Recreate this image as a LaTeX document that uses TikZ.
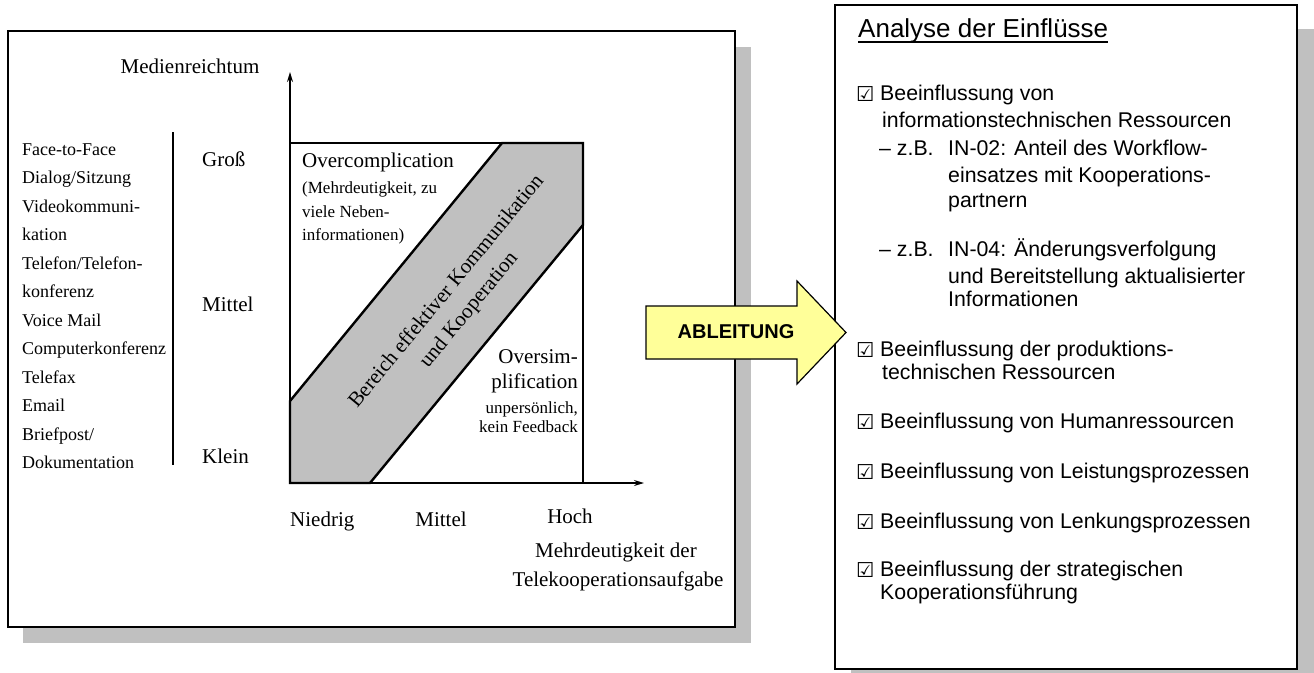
\documentclass[tikz,border=0pt]{standalone}
\usepackage{fontspec}
\setmainfont{Liberation Serif}
\newfontfamily\arialfont{Liberation Sans}
\newfontfamily\symbolfont{DejaVu Sans}
\usetikzlibrary{arrows.meta}
\definecolor{shadowgray}{HTML}{C0C0C0}
\definecolor{arrowyellow}{HTML}{FFFF99}

\begin{document}
\begin{tikzpicture}[x=1pt,y=-1pt,
  panel/.style={draw=black, line width=1.6pt, fill=white},
  dropshadow/.style={fill=shadowgray},
  medium/.style={inner sep=0pt, anchor=base west, font=\fontsize{18}{28.5}\selectfont},
  level/.style={inner sep=0pt, anchor=base west, font=\fontsize{21}{24}\selectfont},
  axislbl/.style={inner sep=0pt, anchor=base, font=\fontsize{21}{24}\selectfont},
  regionsmall/.style={inner sep=0pt, font=\fontsize{17}{19}\selectfont},
  listline/.style={inner sep=0pt, anchor=base west, font=\arialfont\fontsize{21.3}{25}\selectfont},
  checkmark/.style={inner sep=0pt, anchor=base west, font=\symbolfont\fontsize{20.5}{25}\selectfont},
  axis/.style={line width=1.4pt, -{Stealth[length=10pt,width=6pt]}},
  frameline/.style={line width=2.4pt},
]
\useasboundingbox (0,0) rectangle (1314,672);
\clip (0,0) rectangle (1314,672);

% ---------- panels with drop shadows ----------
\fill[dropshadow] (23,47) rectangle (751,643);
\draw[panel] (8,31) rectangle (735,627);
\fill[dropshadow] (851,29) rectangle (1320,690);
\draw[panel] (835,5) rectangle (1297,669);

% ---------- media richness chart ----------
\node[inner sep=0pt, anchor=base, font=\fontsize{21}{24}\selectfont] (ylabel) at (190,73) {Medienreichtum};

\node[medium] (m1)  at (22,155)   {Face-to-Face};
\node[medium] (m2)  at (22,183.5) {Dialog/Sitzung};
\node[medium] (m3)  at (22,212)   {Videokommuni-};
\node[medium] (m4)  at (22,240.5) {kation};
\node[medium] (m5)  at (22,269)   {Telefon/Telefon-};
\node[medium] (m6)  at (22,297.5) {konferenz};
\node[medium] (m7)  at (22,326)   {Voice Mail};
\node[medium] (m8)  at (22,354.5) {Computerkonferenz};
\node[medium] (m9)  at (22,383)   {Telefax};
\node[medium] (m10) at (22,411.5) {Email};
\node[medium] (m11) at (22,440)   {Briefpost/};
\node[medium] (m12) at (22,468.5) {Dokumentation};

\coordinate (sepTop) at (173,132);
\coordinate (sepBot) at (173,465);
\draw[line width=1.6pt] (sepTop) -- (sepBot);

\node[level] (gross)  at (202,166) {Groß};
\node[level] (mittel) at (202,311) {Mittel};
\node[level] (klein)  at (202,463) {Klein};

% band of effective communication
\coordinate (origin) at (290,483);
\coordinate (bandA) at (290,401);
\coordinate (bandB) at (502,143);
\coordinate (boxTL) at (290,143);
\coordinate (boxTR) at (583,143);
\coordinate (bandC) at (583,225);
\coordinate (bandD) at (370,483);
\coordinate (boxBR) at (583,483);
\coordinate (xend) at (644,483);
\coordinate (yend) at (290,72);

\draw[frameline, fill=shadowgray, line join=miter] (bandA) -- (bandB) -- (boxTR) -- (bandC) -- (bandD) -- (origin) -- cycle;
\draw[frameline] (boxTL) -- (boxTR);
\draw[line width=1.8pt] (boxTR) -- (boxBR);
\draw[axis] (origin) -- (xend);
\draw[axis] (origin) -- (yend);

\node[rotate=50.6, align=center, inner sep=0pt, font=\fontsize{21}{29}\selectfont] (bandtext) at (458,301)
  {Bereich effektiver Kommunikation\\und Kooperation};

\node[inner sep=0pt, anchor=base west, font=\fontsize{21}{24}\selectfont] (over) at (302,167) {Overcomplication};
\node[regionsmall, anchor=base west] (over1) at (302,193) {(Mehrdeutigkeit, zu};
\node[regionsmall, anchor=base west] (over2) at (302,217) {viele Neben-};
\node[regionsmall, anchor=base west] (over3) at (302,240) {informationen)};

\node[inner sep=0pt, anchor=base east, font=\fontsize{21}{24}\selectfont] (under) at (578,363) {Oversim-};
\node[inner sep=0pt, anchor=base east, font=\fontsize{21}{24}\selectfont] (under1) at (578,388) {plification};
\node[regionsmall, anchor=base east] (under2) at (578,413) {unpersönlich,};
\node[regionsmall, anchor=base east] (under3) at (578,432) {kein Feedback};

\node[axislbl, anchor=base west] (lo)  at (290,526) {Niedrig};
\node[axislbl] (mid) at (441,526) {Mittel};
\node[axislbl] (hi)  at (570,523) {Hoch};
\node[axislbl] (xlabel1) at (616,557) {Mehrdeutigkeit der};
\node[axislbl] (xlabel2) at (618,586) {Telekooperationsaufgabe};

% ---------- derivation arrow ----------
\coordinate (a1) at (646,306);
\coordinate (a2) at (797,306);
\coordinate (a3) at (797,281);
\coordinate (a4) at (846,332.5);
\coordinate (a5) at (797,384);
\coordinate (a6) at (797,359);
\coordinate (a7) at (646,359);
\fill[dropshadow, shift={(8,9)}] (a1) -- (a2) -- (a3) -- (a4) -- (a5) -- (a6) -- (a7) -- cycle;
\draw[fill=arrowyellow, line width=1.2pt, line join=miter] (a1) -- (a2) -- (a3) -- (a4) -- (a5) -- (a6) -- (a7) -- cycle;
\node[inner sep=0pt, anchor=base, font=\arialfont\bfseries\fontsize{20}{24}\selectfont] (ableitung) at (736,338) {ABLEITUNG};

% ---------- analysis list ----------
\node[inner sep=0pt, anchor=base west, font=\arialfont\fontsize{26}{30}\selectfont] (title) at (858,37) {Analyse der Einflüsse};
\draw[line width=1.7pt] ([yshift=-5pt]title.base west) -- ([yshift=-5pt]title.base east);

\node[checkmark] (c1) at (856,101) {☑};
\node[listline] (l1)  at (880,100) {Beeinflussung von};
\node[listline] (l2)  at (882,127) {informationstechnischen Ressourcen};
\node[listline] (l3)  at (879,155) {– z.B.};
\node[listline] (l3b) at (948,155) {IN-02: Anteil des Workflow-};
\node[listline] (l4)  at (948,182) {einsatzes mit Kooperations-};
\node[listline] (l5)  at (948,207) {partnern};
\node[listline] (l6)  at (879,256) {– z.B.};
\node[listline] (l6b) at (948,256) {IN-04: Änderungsverfolgung};
\node[listline] (l7)  at (948,283) {und Bereitstellung aktualisierter};
\node[listline] (l8)  at (948,306) {Informationen};

\node[checkmark] (c2) at (856,357) {☑};
\node[listline] (l9)  at (880,356) {Beeinflussung der produktions-};
\node[listline] (l10) at (882,379) {technischen Ressourcen};

\node[checkmark] (c3) at (856,429) {☑};
\node[listline] (l11) at (880,428) {Beeinflussung von Humanressourcen};

\node[checkmark] (c4) at (856,479) {☑};
\node[listline] (l12) at (880,478) {Beeinflussung von Leistungsprozessen};

\node[checkmark] (c5) at (856,529) {☑};
\node[listline] (l13) at (880,528) {Beeinflussung von Lenkungsprozessen};

\node[checkmark] (c6) at (856,577) {☑};
\node[listline] (l14) at (880,576) {Beeinflussung der strategischen};
\node[listline] (l15) at (880,599) {Kooperationsführung};
\end{tikzpicture}
\end{document}
